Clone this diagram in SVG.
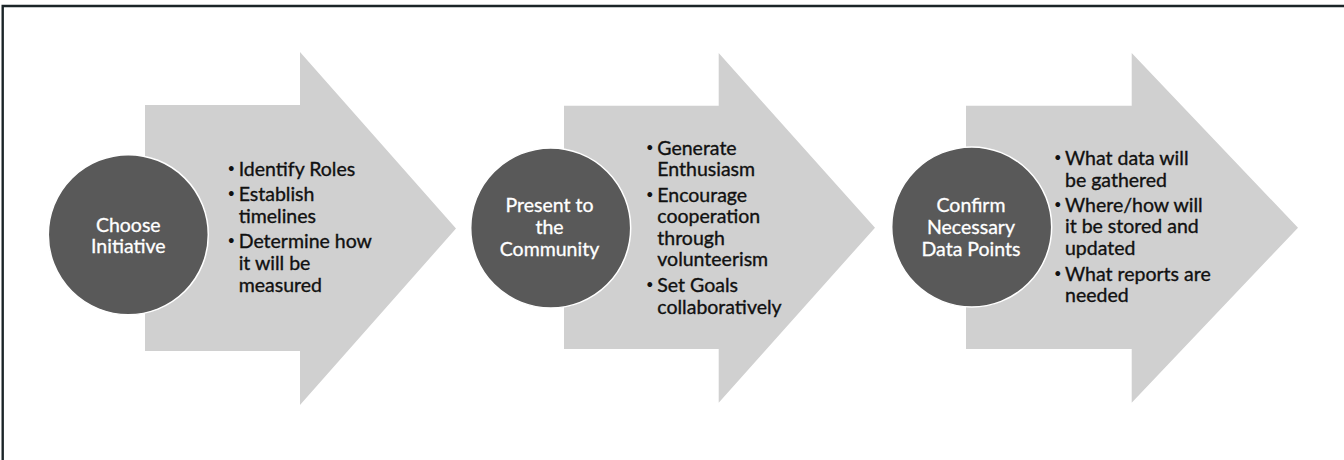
<svg xmlns="http://www.w3.org/2000/svg" width="1344" height="460" viewBox="0 0 1344 460">
  <style>
    .frame { stroke: #1b2528; stroke-width: 2.4; fill: none; }
    .arrow { fill: #d0d0d0; }
    .step { fill: #595959; stroke: #ffffff; stroke-width: 1.5; }
    .label { font-family: Lato, "Open Sans", sans-serif; font-size: 19.5px; fill: #ffffff; stroke: #ffffff; stroke-width: 0.3; text-anchor: middle; }
    .item { font-family: Lato, "Open Sans", sans-serif; font-size: 19.5px; fill: #111111; stroke: #111111; stroke-width: 0.35; }
    .dot { font-family: Lato, "Open Sans", sans-serif; font-size: 13px; fill: #111111; }
  </style>

  <rect width="1344" height="460" fill="#ffffff"/>
  <!-- top and left frame rules -->
  <path class="frame" d="M2.7 460 V6 H1344"/>

  <!-- stage 1 -->
  <g id="stage1">
    <polygon class="arrow" points="145,105 300,105 300,52 456,228.5 300,405 300,351 145,351"/>
    <circle class="step" cx="128.3" cy="234.7" r="80"/>
    <text class="label"><tspan x="128.3" y="231.7">Choose</tspan><tspan x="128.3" y="252.8">Initiative</tspan></text>
    <g id="stage1-items">
      <text class="dot" x="227.5" y="173">•</text>
      <text class="item" x="238.7" y="176">Identify Roles</text>
      <text class="dot" x="227.5" y="198">•</text>
      <text class="item"><tspan x="238.7" y="201">Establish</tspan><tspan x="238.7" y="222.7">timelines</tspan></text>
      <text class="dot" x="227.5" y="245.3">•</text>
      <text class="item"><tspan x="238.7" y="248.3">Determine how</tspan><tspan x="238.7" y="270">it will be</tspan><tspan x="238.7" y="291.7">measured</tspan></text>
    </g>
  </g>

  <!-- stage 2 -->
  <g id="stage2">
    <polygon class="arrow" points="564,105.7 718.7,105.7 718.7,53 875,227.7 718.7,402.7 718.7,349 564,349"/>
    <circle class="step" cx="550.7" cy="228" r="80"/>
    <text class="label"><tspan x="549.5" y="212.3">Present to</tspan><tspan x="549.5" y="234">the</tspan><tspan x="549.5" y="255.7">Community</tspan></text>
    <g id="stage2-items">
      <text class="dot" x="646" y="151.5">•</text>
      <text class="item"><tspan x="657.3" y="154.5">Generate</tspan><tspan x="657.3" y="176">Enthusiasm</tspan></text>
      <text class="dot" x="646" y="198.7">•</text>
      <text class="item"><tspan x="657.3" y="201.7">Encourage</tspan><tspan x="657.3" y="223.2">cooperation</tspan><tspan x="657.3" y="244.7">through</tspan><tspan x="657.3" y="266.2">volunteerism</tspan></text>
      <text class="dot" x="646" y="289.3">•</text>
      <text class="item"><tspan x="657.3" y="292.3">Set Goals</tspan><tspan x="657.3" y="313.8">collaboratively</tspan></text>
    </g>
  </g>

  <!-- stage 3 -->
  <g id="stage3">
    <polygon class="arrow" points="966,105.7 1131.7,105.7 1131.7,53 1298,227.7 1131.7,402.7 1131.7,349 966,349"/>
    <circle class="step" cx="971.7" cy="227" r="80"/>
    <text class="label"><tspan x="971" y="212.3">Confirm</tspan><tspan x="971" y="234">Necessary</tspan><tspan x="971" y="255.7">Data Points</tspan></text>
    <g id="stage3-items">
      <text class="dot" x="1054" y="162">•</text>
      <text class="item"><tspan x="1065" y="165">What data will</tspan><tspan x="1065" y="186.7">be gathered</tspan></text>
      <text class="dot" x="1054" y="208.7">•</text>
      <text class="item"><tspan x="1065" y="211.7">Where/how will</tspan><tspan x="1065" y="233.3">it be stored and</tspan><tspan x="1065" y="255">updated</tspan></text>
      <text class="dot" x="1054" y="277.7">•</text>
      <text class="item"><tspan x="1065" y="280.7">What reports are</tspan><tspan x="1065" y="302.3">needed</tspan></text>
    </g>
  </g>

  <!-- flow connectors: the chevron heads carry the flow between stages -->
  <g id="connectors"/>
</svg>
